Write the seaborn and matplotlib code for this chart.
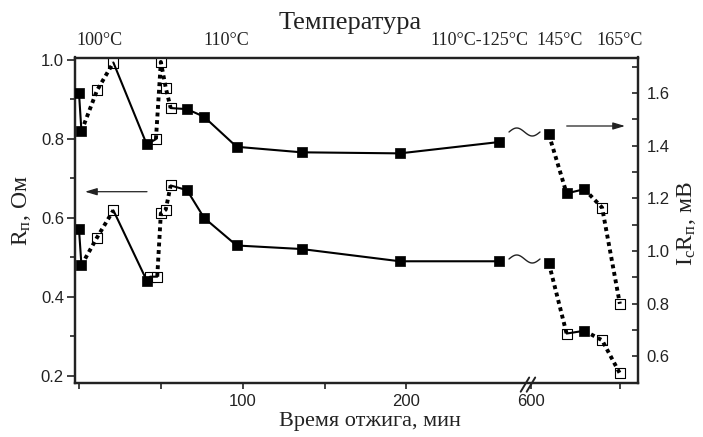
import numpy as np
import pandas as pd
import matplotlib
matplotlib.use("Agg")
import matplotlib.pyplot as plt
from matplotlib.lines import Line2D
import seaborn as sns

# ---------------- data ----------------
# upper curve: I_c R_n (right axis, mV)
time_upper = [0, 1.5, 11, 21, 41.4, 47, 50, 53, 56, 66, 76.4, 96.3, 136, 196, 256.5,
              620, 640, 660, 680, 700]
icrn_mv = [1.60, 1.455, 1.61, 1.716, 1.405, 1.425, 1.718, 1.62, 1.543, 1.539, 1.51,
           1.396, 1.375, 1.371, 1.414, 1.443, 1.219, 1.235, 1.165, 0.80]
filled_upper = [1, 1, 0, 0, 1, 0, 0, 0, 0, 1, 1, 1, 1, 1, 1, 1, 1, 1, 0, 0]
segments_upper = [(0, 1, 'solid'), (1, 3, 'dotted'), (3, 5, 'solid'), (5, 8, 'dotted'),
                  (8, 14, 'solid'), (15, 16, 'dotted'), (16, 17, 'solid'), (17, 19, 'dotted')]

# lower curve: R_n (left axis, Ohm)
time_lower = [0, 1.5, 11, 21, 41.4, 43.4, 47.8, 50, 53, 56, 66, 76.4, 96.3, 136, 196, 256.5,
              620, 640, 660, 680, 700]
rn_ohm = [0.571, 0.480, 0.550, 0.619, 0.441, 0.451, 0.451, 0.611, 0.621, 0.682, 0.670, 0.600,
          0.530, 0.521, 0.490, 0.490, 0.485, 0.307, 0.314, 0.290, 0.206]
filled_lower = [1, 1, 0, 0, 1, 0, 0, 0, 0, 0, 1, 1, 1, 1, 1, 1, 1, 0, 1, 0, 0]
segments_lower = [(0, 1, 'solid'), (1, 3, 'dotted'), (3, 4, 'solid'), (4, 6, 'solid'),
                  (6, 9, 'dotted'), (9, 15, 'solid'), (16, 17, 'dotted'), (17, 18, 'solid'),
                  (18, 20, 'dotted')]

x_ticks = [0, 50, 100, 150, 200, 600, 700]
x_tick_labels = ['', '', '100', '', '200', '600', '']
left_ticks = [0.2, 0.4, 0.6, 0.8, 1.0]
left_minor = [0.3, 0.5, 0.7, 0.9]
right_ticks = [0.6, 0.8, 1.0, 1.2, 1.4, 1.6]
right_minor = [0.5, 0.7, 0.9, 1.1, 1.3, 1.5, 1.7]
temp_title = 'Температура'
temp_labels = ['100°C', '110°C', '110°C-125°C', '145°C', '165°C']

# ---------------- broken x scale ----------------
BL, BR, GAP, K = 274.0, 600.0, 2.2, 0.542


def fwd(t):
    t = np.asarray(t, dtype=float)
    return np.where(t <= BL, t,
                    np.where(t >= BR, BL + GAP + (t - BR) * K,
                             BL + (t - BL) * GAP / (BR - BL)))


def inv(u):
    u = np.asarray(u, dtype=float)
    return np.where(u <= BL, u,
                    np.where(u >= BL + GAP, BR + (u - BL - GAP) / K,
                             BL + (u - BL) * (BR - BL) / GAP))


sns.set_theme(style="ticks")
plt.rcParams['font.family'] = ['Liberation Sans', 'DejaVu Sans']
plt.rcParams['mathtext.fontset'] = 'custom'
plt.rcParams['mathtext.rm'] = 'Liberation Serif'
plt.rcParams['mathtext.it'] = 'Liberation Serif:italic'

W, H = 703, 437
INK = '#222222'
fig = plt.figure(figsize=(W / 100, H / 100), dpi=100)
ax = fig.add_axes([75 / W, 1 - 383.3 / H, (638.3 - 75) / W, (383.3 - 57.5) / H])
ax.set_xscale('function', functions=(fwd, inv))
ax2 = ax.twinx()


def draw_series(axis, t, v, filled, segs):
    df = pd.DataFrame({'t': t, 'v': v, 'filled': filled})
    for a, b, style in segs:
        seg = df.iloc[a:b + 1]
        if style == 'solid':
            sns.lineplot(data=seg, x='t', y='v', ax=axis, color='black', lw=1.5,
                         sort=False, estimator=None, zorder=3)
        else:
            sns.lineplot(data=seg, x='t', y='v', ax=axis, color='black', lw=2.8,
                         linestyle=(0, (1, 0.95)), dash_capstyle='butt',
                         sort=False, estimator=None, zorder=3)
    sns.scatterplot(data=df[df.filled == 0], x='t', y='v', ax=axis, marker='s', s=45,
                    color='white', edgecolor='black', linewidth=0.8, zorder=2)
    sns.scatterplot(data=df[df.filled == 1], x='t', y='v', ax=axis, marker='s', s=58,
                    color='black', edgecolor='black', linewidth=0.5, zorder=5)


draw_series(ax, time_lower, rn_ohm, filled_lower, segments_lower)
draw_series(ax2, time_upper, icrn_mv, filled_upper, segments_upper)

ax.set_xlim(-2.44, 720.8)
ax.set_xticks(x_ticks)
ax.set_xticklabels(x_tick_labels)
ax.set_ylim(0.181, 1.006)
ax.set_yticks(left_ticks)
ax.set_yticks(left_minor, minor=True)
ax2.set_ylim(0.498, 1.735)
ax2.set_yticks(right_ticks)
ax2.set_yticks(right_minor, minor=True)

for a in (ax, ax2):
    for sp in a.spines.values():
        sp.set_linewidth(1.6)
        sp.set_color(INK)

ax.tick_params(axis='y', which='major', direction='out', length=6, width=1.2,
               labelsize=12, pad=2, colors=INK)
ax.tick_params(axis='y', which='minor', direction='out', length=3.5, width=1.2, colors=INK)
ax.tick_params(axis='x', which='both', direction='out', length=4, width=1.2,
               labelsize=12, pad=4, colors=INK)
ax2.tick_params(axis='y', which='major', direction='in', length=4.5, width=1.2,
                labelsize=12, pad=6, colors=INK)
ax2.tick_params(axis='y', which='minor', direction='in', length=4, width=1.2, colors=INK)

serif = 'Liberation Serif'
ax.set_xlabel('Время отжига, мин', family=serif, fontsize=16, color=INK)
ax.xaxis.set_label_coords(0.524, -0.088)
ax.set_ylabel(r'$\mathregular{R_п}$, Ом', family=serif, fontsize=17, color=INK)
ax.yaxis.set_label_coords(-0.075, 0.529)
ax2.set_ylabel(r'$\mathregular{I_cR_п}$, мВ', family=serif, fontsize=17, color=INK)
ax2.yaxis.set_label_coords(1.065, 0.49)

# top annotations
fig.text(350 / W, 1 - 29.3 / H, temp_title, family=serif, fontsize=19,
         ha='center', va='baseline', color=INK)
for xpx, lab in zip([99.5, 226, 479, 560, 619.5], temp_labels):
    fig.text(xpx / W, 1 - 45 / H, lab, family=serif, fontsize=13,
             ha='center', va='baseline', color=INK)

# arrows pointing to the axes
arrow = dict(arrowstyle='-|>,head_length=0.6,head_width=0.18', color=INK, lw=0.9,
             mutation_scale=12, shrinkA=0, shrinkB=0)
fig.add_artist(matplotlib.patches.FancyArrowPatch((147 / W, 1 - 191.7 / H), (85 / W, 1 - 191.7 / H),
               transform=fig.transFigure, **arrow))
fig.add_artist(matplotlib.patches.FancyArrowPatch((566.7 / W, 1 - 126 / H), (625 / W, 1 - 126 / H),
               transform=fig.transFigure, **arrow))

# tilde break symbols between the segments
for yc in (132, 259):
    xs = np.linspace(509, 540, 50)
    ys = yc - 4 * np.sin(2 * np.pi * (xs - 509) / 31)
    fig.add_artist(Line2D(xs / W, 1 - ys / H, transform=fig.transFigure, color=INK, lw=1.0))

# axis break marks on the bottom spine
for x0 in (520.7, 526.7):
    fig.add_artist(Line2D([x0 / W, (x0 + 8.5) / W], [1 - 391.7 / H, 1 - 377.5 / H],
                          transform=fig.transFigure, color=INK, lw=1.4))

fig.savefig('out.png', dpi=100)
